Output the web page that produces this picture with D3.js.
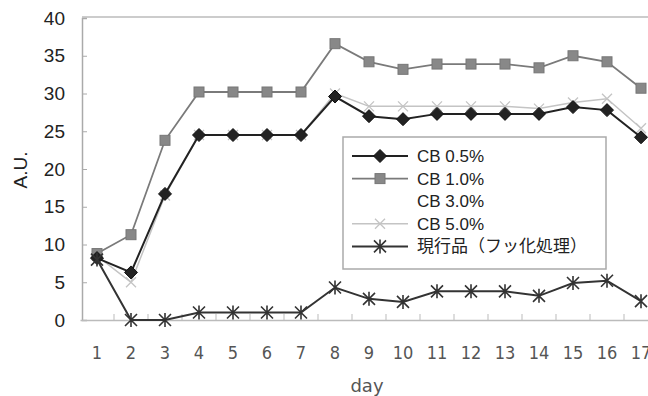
<!DOCTYPE html>
<html><head><meta charset="utf-8">
<script src="https://cdn.jsdelivr.net/npm/d3@7"></script>
<style>body{margin:0;background:#fff}svg{display:block}</style>
</head><body>
<svg id="c" width="648" height="396"></svg>
<script>
const days = ["1","2","3","4","5","6","7","8","9","10","11","12","13","14","15","16","17"];
const yTicks = [0,5,10,15,20,25,30,35,40];
const seriesNames = ["CB 0.5%","CB 1.0%","CB 3.0%","CB 5.0%","現行品（フッ化処理）"];
const cb05 = [8.2,6.3,16.7,24.5,24.5,24.5,24.5,29.6,27.0,26.6,27.3,27.3,27.3,27.3,28.2,27.8,24.2];
const cb10 = [8.8,11.3,23.8,30.2,30.2,30.2,30.2,36.6,34.2,33.2,33.9,33.9,33.9,33.4,35.0,34.2,30.7];
const cb30 = [8.4,5.5,16.6,24.5,24.5,24.5,24.5,29.9,28.0,28.0,28.1,28.1,28.1,27.9,28.6,28.8,24.9];
const cb50 = [8.5,5.0,16.5,24.5,24.5,24.5,24.5,30.0,28.3,28.3,28.3,28.3,28.3,28.0,28.8,29.3,25.4];
const genko = [8.0,0,0,1.0,1.0,1.0,1.0,4.3,2.8,2.4,3.8,3.8,3.8,3.2,4.9,5.2,2.5];

const svg = d3.select("#c");
const x = d3.scaleBand().domain(days).range([80, 658]);
const y = d3.scaleLinear().domain([0,40]).range([320, 18]);
const cx = d => x(d) + x.bandwidth()/2;

// frame
svg.append("line").attr("x1",82).attr("x2",648).attr("y1",17).attr("y2",17).attr("stroke","#bbb").attr("stroke-width",1.5);
// y axis
const ya = svg.append("g").attr("transform","translate(82,0)")
  .call(d3.axisRight(y).tickValues(yTicks).tickSize(5).tickFormat(""));
ya.select(".domain").attr("stroke","#aaa").attr("stroke-width",1.5);
ya.selectAll(".tick line").attr("stroke","#aaa");
svg.append("g").selectAll("text").data(yTicks).join("text")
  .attr("x",65).attr("y",d=>y(d)+6.5).attr("text-anchor","end")
  .attr("font-family","Liberation Sans, Arial, sans-serif").attr("font-size",19).attr("fill","#222")
  .text(d=>d);
// x axis
const xa = svg.append("g").attr("transform","translate(0,320)")
  .call(d3.axisTop(x).tickValues([]).tickSize(0));
xa.select(".domain").attr("stroke","#bbb").attr("stroke-width",1.5);
svg.append("g").selectAll("line").data(days.slice(1)).join("line")
  .attr("x1",d=>x(d)).attr("x2",d=>x(d)).attr("y1",320).attr("y2",314)
  .attr("stroke","#bbb");
svg.append("g").selectAll("text").data(days).join("text")
  .attr("x",d=>cx(d)).attr("y",359).attr("text-anchor","middle")
  .attr("font-family","DejaVu Sans Condensed, DejaVu Sans, sans-serif").attr("font-size",18).attr("fill","#555")
  .text(d=>d);
svg.append("text").attr("x",367).attr("y",392).attr("text-anchor","middle")
  .attr("font-family","DejaVu Sans, sans-serif").attr("font-size",18).attr("fill","#555").text("day");
svg.append("text").attr("transform","translate(27,170) rotate(-90)").attr("text-anchor","middle")
  .attr("font-family","Liberation Sans, Arial, sans-serif").attr("font-size",19).attr("fill","#222").text("A.U.");

function marker(g, type, px, py, color){
  if(type==="diamond"){
    g.append("path").attr("d",`M${px},${py-6.5}L${px+6.5},${py}L${px},${py+6.5}L${px-6.5},${py}Z`).attr("fill","#222").attr("stroke","#111");
  } else if(type==="square"){
    g.append("rect").attr("x",px-5).attr("y",py-5).attr("width",10).attr("height",10).attr("fill","#888").attr("stroke","#777");
  } else if(type==="x"){
    g.append("path").attr("d",`M${px-5},${py-5}L${px+5},${py+5}M${px-5},${py+5}L${px+5},${py-5}`).attr("stroke",color).attr("stroke-width",1.3);
  } else if(type==="star"){
    g.append("path").attr("d",`M${px-6},${py-6}L${px+6},${py+6}M${px-6},${py+6}L${px+6},${py-6}M${px},${py-7}L${px},${py+7}`).attr("stroke",color).attr("stroke-width",1.6);
  } else if(type==="white"){
    g.append("rect").attr("x",px-4).attr("y",py-4).attr("width",8).attr("height",8).attr("fill","#fff");
  }
}
const series = [
  {name:seriesNames[2], vals:cb30, color:"#fff", w:1.5, m:"white"},
  {name:seriesNames[3], vals:cb50, color:"#c4c4c4", w:1.5, m:"x"},
  {name:seriesNames[1], vals:cb10, color:"#7a7a7a", w:1.8, m:"square"},
  {name:seriesNames[0], vals:cb05, color:"#222", w:2, m:"diamond"},
  {name:seriesNames[4], vals:genko, color:"#333", w:2, m:"star"}
];
const line = d3.line().x((d,i)=>cx(days[i])).y(d=>y(d));
series.forEach(s=>{
  const g = svg.append("g");
  g.append("path").datum(s.vals).attr("d",line).attr("fill","none").attr("stroke",s.color).attr("stroke-width",s.w);
  s.vals.forEach((v,i)=>marker(g,s.m,cx(days[i]),y(v),s.color));
});

// legend
const lg = svg.append("g");
lg.append("rect").attr("x",343).attr("y",137).attr("width",263).attr("height",132).attr("fill","#fff").attr("stroke","#aaa").attr("stroke-width",1.5);
const legOrder = [
  {name:seriesNames[0], color:"#222", w:2, m:"diamond"},
  {name:seriesNames[1], color:"#7a7a7a", w:1.8, m:"square"},
  {name:seriesNames[2], color:"#fff", w:1.5, m:"white"},
  {name:seriesNames[3], color:"#c4c4c4", w:1.5, m:"x"},
  {name:seriesNames[4], color:"#333", w:2, m:"star"}
];
legOrder.forEach((s,i)=>{
  const yy = 156 + i*22.6;
  const g = lg.append("g");
  g.append("line").attr("x1",352).attr("x2",408).attr("y1",yy).attr("y2",yy).attr("stroke",s.color).attr("stroke-width",s.w);
  marker(g,s.m,380,yy,s.color);
  g.append("text").attr("x",417).attr("y",yy+6).attr("font-family",i===4?"Noto Sans CJK JP, sans-serif":"Liberation Sans, Arial, sans-serif")
    .attr("font-size",i===4?17:17).attr("fill","#222").text(s.name);
});
</script>
</body></html>
